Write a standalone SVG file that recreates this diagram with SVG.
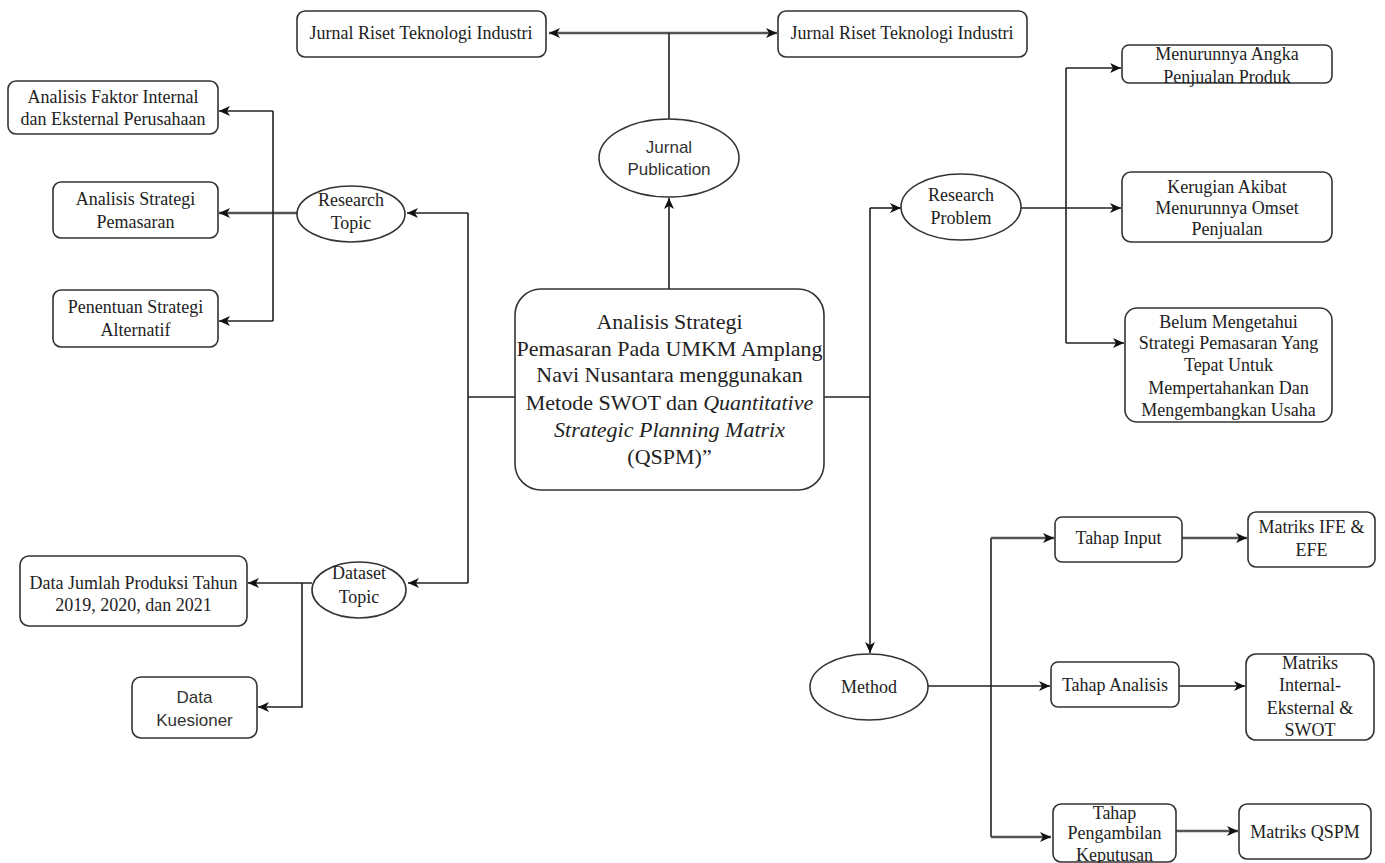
<svg xmlns="http://www.w3.org/2000/svg" width="1385" height="863" viewBox="0 0 1385 863">
<style>
.box{fill:#fff;stroke:#333;stroke-width:1.6}
.t{font-family:"Liberation Serif","Times New Roman",serif;font-size:18px;fill:#222;text-anchor:middle}
.s{font-family:"Liberation Sans",Arial,sans-serif;font-size:17px;fill:#333;text-anchor:middle}
.c{font-family:"Liberation Serif","Times New Roman",serif;font-size:22px;fill:#222;text-anchor:middle}
.ln{fill:none;stroke:#222;stroke-width:1.6}
.lg{fill:none;stroke:#555;stroke-width:2.6}
</style>
<defs>
<marker id="arr" markerUnits="userSpaceOnUse" markerWidth="12" markerHeight="10" refX="11" refY="5" orient="auto-start-reverse">
<path d="M0,0 L11,5 L0,10 L3,5 z" fill="#111"/>
</marker>
</defs>
<rect width="1385" height="863" fill="#fff"/>

<g id="connectors">
<path class="lg" d="M549,33 H777" marker-start="url(#arr)" marker-end="url(#arr)"/>
<path class="ln" d="M669,33 V119"/>
<path class="ln" d="M669,289 V198" marker-end="url(#arr)"/>
<path class="ln" d="M515,397 H468"/>
<path class="ln" d="M468,213 V583"/>
<path class="ln" d="M468,213 H407" marker-end="url(#arr)"/>
<path class="ln" d="M468,583 H408" marker-end="url(#arr)"/>
<path class="lg" d="M297,213 H219" marker-end="url(#arr)"/>
<path class="ln" d="M273,111 V321"/>
<path class="ln" d="M273,111 H219" marker-end="url(#arr)"/>
<path class="ln" d="M273,321 H219" marker-end="url(#arr)"/>
<path class="ln" d="M312,583 H248" marker-end="url(#arr)"/>
<path class="ln" d="M302,583 V707 H258" marker-end="url(#arr)"/>
<path class="ln" d="M824,397 H870"/>
<path class="ln" d="M870,208 V653" marker-end="url(#arr)"/>
<path class="ln" d="M870,208 H901" marker-end="url(#arr)"/>
<path class="ln" d="M1021,208 H1121" marker-end="url(#arr)"/>
<path class="ln" d="M1066,68 V343"/>
<path class="ln" d="M1066,68 H1121" marker-end="url(#arr)"/>
<path class="ln" d="M1066,343 H1124" marker-end="url(#arr)"/>
<path class="ln" d="M928,686 H1050" marker-end="url(#arr)"/>
<path class="ln" d="M991,538 V837"/>
<path class="lg" d="M991,538 H1054" marker-end="url(#arr)"/>
<path class="lg" d="M991,837 H1051" marker-end="url(#arr)"/>
<path class="lg" d="M1182,538 H1247" marker-end="url(#arr)"/>
<path class="ln" d="M1179,686 H1245" marker-end="url(#arr)"/>
<path class="lg" d="M1176,831 H1238" marker-end="url(#arr)"/>
</g>

<g id="jurnal-left">
<rect class="box" x="297" y="11" width="249" height="46" rx="8"/>
<text class="t" x="421" y="39">Jurnal Riset Teknologi Industri</text>
</g>
<g id="jurnal-right">
<rect class="box" x="778" y="11" width="249" height="46" rx="8"/>
<text class="t" x="902" y="39">Jurnal Riset Teknologi Industri</text>
</g>
<g id="jurnal-publication">
<ellipse class="box" cx="669" cy="158" rx="70" ry="39"/>
<text class="s" x="669" y="153">Jurnal</text>
<text class="s" x="669" y="175">Publication</text>
</g>
<g id="central">
<rect class="box" x="515" y="289" width="309" height="201" rx="26"/>
<text class="c" x="669.5" y="329">Analisis Strategi</text>
<text class="c" x="669.5" y="356">Pemasaran Pada UMKM Amplang</text>
<text class="c" x="669.5" y="382">Navi Nusantara menggunakan</text>
<text class="c" x="669.5" y="410">Metode SWOT dan <tspan font-style="italic">Quantitative</tspan></text>
<text class="c" x="669.5" y="437" font-style="italic">Strategic Planning Matrix</text>
<text class="c" x="669.5" y="464">(QSPM)”</text>
</g>

<g id="research-topic">
<ellipse class="box" cx="351" cy="214" rx="54" ry="28"/>
<text class="t" x="351" y="206">Research</text>
<text class="t" x="351" y="229">Topic</text>
</g>
<g id="analisis-faktor">
<rect class="box" x="8" y="81" width="210" height="53" rx="8"/>
<text class="t" x="113" y="103">Analisis Faktor Internal</text>
<text class="t" x="113" y="125">dan Eksternal Perusahaan</text>
</g>
<g id="analisis-strategi">
<rect class="box" x="53" y="182" width="165" height="56" rx="8"/>
<text class="t" x="135.5" y="205">Analisis Strategi</text>
<text class="t" x="135.5" y="228">Pemasaran</text>
</g>
<g id="penentuan-strategi">
<rect class="box" x="53" y="290" width="165" height="57" rx="8"/>
<text class="t" x="135.5" y="313">Penentuan Strategi</text>
<text class="t" x="135.5" y="336">Alternatif</text>
</g>

<g id="dataset-topic">
<ellipse class="box" cx="359" cy="590" rx="47" ry="28"/>
<text class="t" x="359" y="579">Dataset</text>
<text class="t" x="359" y="603">Topic</text>
</g>
<g id="data-jumlah">
<rect class="box" x="20" y="556" width="227" height="70" rx="9"/>
<text class="t" x="133.5" y="589">Data Jumlah Produksi Tahun</text>
<text class="t" x="133.5" y="611">2019, 2020, dan 2021</text>
</g>
<g id="data-kuesioner">
<rect class="box" x="132" y="677" width="125" height="61" rx="9"/>
<text class="s" x="194.5" y="703">Data</text>
<text class="s" x="194.5" y="726">Kuesioner</text>
</g>

<g id="research-problem">
<ellipse class="box" cx="961" cy="207" rx="60" ry="33"/>
<text class="t" x="961" y="201">Research</text>
<text class="t" x="961" y="224">Problem</text>
</g>
<g id="menurunnya-angka">
<rect class="box" x="1122" y="45" width="210" height="38" rx="7"/>
<text class="t" x="1227" y="60">Menurunnya Angka</text>
<text class="t" x="1227" y="83">Penjualan Produk</text>
</g>
<g id="kerugian">
<rect class="box" x="1122" y="172" width="210" height="70" rx="9"/>
<text class="t" x="1227" y="193">Kerugian Akibat</text>
<text class="t" x="1227" y="214">Menurunnya Omset</text>
<text class="t" x="1227" y="235">Penjualan</text>
</g>
<g id="belum-mengetahui">
<rect class="box" x="1125" y="308" width="207" height="114" rx="12"/>
<text class="t" x="1228.5" y="328">Belum Mengetahui</text>
<text class="t" x="1228.5" y="349">Strategi Pemasaran Yang</text>
<text class="t" x="1228.5" y="371">Tepat Untuk</text>
<text class="t" x="1228.5" y="394">Mempertahankan Dan</text>
<text class="t" x="1228.5" y="416">Mengembangkan Usaha</text>
</g>

<g id="method">
<ellipse class="box" cx="869" cy="687" rx="59" ry="33"/>
<text class="t" x="869" y="693">Method</text>
</g>
<g id="tahap-input">
<rect class="box" x="1055" y="517" width="127" height="45" rx="7"/>
<text class="t" x="1118.5" y="544">Tahap Input</text>
</g>
<g id="matriks-ife">
<rect class="box" x="1248" y="512" width="127" height="55" rx="8"/>
<text class="t" x="1311.5" y="533">Matriks IFE &amp;</text>
<text class="t" x="1311.5" y="556">EFE</text>
</g>
<g id="tahap-analisis">
<rect class="box" x="1051" y="662" width="128" height="45" rx="7"/>
<text class="t" x="1115" y="691">Tahap Analisis</text>
</g>
<g id="matriks-internal">
<rect class="box" x="1246" y="654" width="128" height="86" rx="10"/>
<text class="t" x="1310" y="669">Matriks</text>
<text class="t" x="1310" y="691">Internal-</text>
<text class="t" x="1310" y="714">Eksternal &amp;</text>
<text class="t" x="1310" y="736">SWOT</text>
</g>
<g id="tahap-pengambilan">
<rect class="box" x="1053" y="804" width="123" height="58" rx="8"/>
<text class="t" x="1114.5" y="819">Tahap</text>
<text class="t" x="1114.5" y="839">Pengambilan</text>
<text class="t" x="1114.5" y="861">Keputusan</text>
</g>
<g id="matriks-qspm">
<rect class="box" x="1239" y="804" width="132" height="55" rx="8"/>
<text class="t" x="1305" y="838">Matriks QSPM</text>
</g>
</svg>
